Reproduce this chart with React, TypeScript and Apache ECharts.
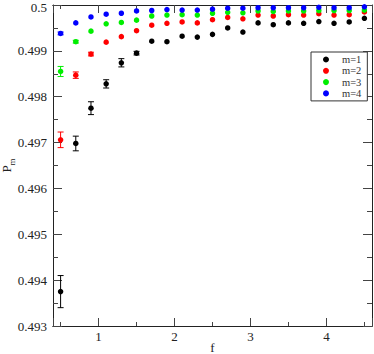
import React, { useEffect, useRef } from "react";
import * as echarts from "echarts";

const fValues = [0.5, 0.7, 0.9, 1.1, 1.3, 1.5, 1.7, 1.9, 2.1, 2.3, 2.5, 2.7, 2.9, 3.1, 3.3, 3.5, 3.7, 3.9, 4.1, 4.3, 4.5];

const m1 = [0.49375, 0.49698, 0.49775, 0.49828, 0.49874, 0.49895, 0.49921, 0.4992, 0.49932, 0.4993, 0.49936, 0.4995, 0.49941, 0.49961, 0.49957, 0.49961, 0.4996, 0.49964, 0.4996, 0.49963, 0.49971];
const m1Err = [0.00035, 0.00016, 0.00014, 0.00009, 0.00009, 0.00004, 0, 0, 0, 0, 0, 0, 0, 0, 0, 0, 0, 0, 0, 0, 0];

const m2 = [0.49706, 0.49847, 0.49893, 0.49919, 0.49931, 0.49944, 0.49956, 0.4996, 0.49963, 0.49961, 0.49968, 0.49973, 0.4997, 0.49978, 0.49976, 0.49979, 0.49978, 0.49981, 0.49978, 0.49979, 0.49985];
const m2Err = [0.00017, 0.00007, 0.00004, 0, 0, 0, 0, 0, 0, 0, 0, 0, 0, 0, 0, 0, 0, 0, 0, 0, 0];

const m3 = [0.49855, 0.4992, 0.49943, 0.49959, 0.49962, 0.49967, 0.49976, 0.49978, 0.49979, 0.49978, 0.49982, 0.49984, 0.49983, 0.49987, 0.49986, 0.49987, 0.49987, 0.49988, 0.49988, 0.49988, 0.49989];
const m3Err = [0.00011, 0.00003, 0, 0, 0, 0, 0, 0, 0, 0, 0, 0, 0, 0, 0, 0, 0, 0, 0, 0, 0];

const m4 = [0.49938, 0.49961, 0.49974, 0.4998, 0.49982, 0.49987, 0.49988, 0.4999, 0.49989, 0.49989, 0.49991, 0.49993, 0.49993, 0.49994, 0.49994, 0.49994, 0.49994, 0.49995, 0.49994, 0.49994, 0.49996];
const m4Err = [0.00003, 0, 0, 0, 0, 0, 0, 0, 0, 0, 0, 0, 0, 0, 0, 0, 0, 0, 0, 0, 0];

const seriesNames = ["m=1", "m=2", "m=3", "m=4"];
const seriesColors = ["#000000", "#ff0000", "#00ee00", "#0000ff"];

const FONT = "'Liberation Serif', 'DejaVu Serif', 'Times New Roman', serif";

export default function App() {
  const ref = useRef<HTMLDivElement>(null);
  useEffect(() => {
    if (!ref.current) return;
    const chart = echarts.init(ref.current, undefined, { renderer: "svg" });
    const allVals = [m1, m2, m3, m4];
    const allErr = [m1Err, m2Err, m3Err, m4Err];

    const axisCommon = {
      type: "value" as const,
      min: 0.4,
      max: 4.6,
      axisLine: { show: true, onZero: false, lineStyle: { color: "#222", width: 1 } },
      splitLine: { show: false },
    };

    const xAxes = [
      { ...axisCommon, position: "bottom", minInterval: 0.5, maxInterval: 0.5,
        axisTick: { show: true, inside: true, length: 4, lineStyle: { color: "#444" } },
        axisLabel: { show: false } },
      { ...axisCommon, position: "bottom", minInterval: 1, maxInterval: 1,
        axisTick: { show: true, inside: true, length: 8, lineStyle: { color: "#444" } },
        axisLabel: {
          show: true, margin: 4, fontFamily: FONT, fontSize: 13, color: "#222",
          formatter: (v: number) => (Math.abs(v - Math.round(v)) < 1e-9 ? String(Math.round(v)) : ""),
        },
        name: "f", nameLocation: "middle", nameGap: 15, nameMoveOverlap: false,
        nameTextStyle: { fontFamily: FONT, fontSize: 13, color: "#222", lineHeight: 13 } },
      { ...axisCommon, position: "top", minInterval: 0.5, maxInterval: 0.5,
        axisTick: { show: true, inside: true, length: 4, lineStyle: { color: "#444" } },
        axisLabel: { show: false } },
      { ...axisCommon, position: "top", minInterval: 1, maxInterval: 1,
        axisTick: { show: true, inside: true, length: 8, lineStyle: { color: "#444" } },
        axisLabel: { show: false } },
    ];

    const yCommon = {
      type: "value" as const,
      min: 0.493,
      max: 0.5,
      interval: 0.001,
      axisLine: { show: true, onZero: false, lineStyle: { color: "#222", width: 1 } },
      axisTick: { show: true, inside: true, length: 9, lineStyle: { color: "#444" } },
      minorTick: { show: true, splitNumber: 2, length: 5, lineStyle: { color: "#444" } },
      splitLine: { show: false },
      minorSplitLine: { show: false },
    };

    const yAxes = [
      { ...yCommon, position: "left",
        axisLabel: {
          show: true, margin: 6, fontFamily: FONT, fontSize: 13, color: "#222",
          formatter: (v: number) => {
            const s = String(parseFloat(v.toFixed(4)));
            return v > 0.49995 ? "{t|" + s + "}" : s;
          },
          rich: {
            t: { fontFamily: FONT, fontSize: 13, color: "#222", padding: [4, 0, 0, 0] },
          },
        },
        name: "{p|P}{s|m}", nameLocation: "middle", nameGap: 37, nameRotate: 90, nameMoveOverlap: false,
        nameTextStyle: {
          fontFamily: FONT, color: "#222",
          rich: {
            p: { fontFamily: FONT, fontSize: 13, color: "#222", verticalAlign: "top", lineHeight: 16 },
            s: { fontFamily: FONT, fontSize: 9, color: "#222", verticalAlign: "bottom", lineHeight: 16 },
          },
        } },
      { ...yCommon, position: "right", axisLabel: { show: false } },
    ];

    const series: any[] = [];
    allVals.forEach((vals, si) => {
      const errData: number[][] = [];
      vals.forEach((v, i) => {
        if (allErr[si][i] > 0) errData.push([fValues[i], v - allErr[si][i], v + allErr[si][i]]);
      });
      series.push({
        type: "custom",
        name: seriesNames[si] + " err",
        xAxisIndex: 1,
        yAxisIndex: 0,
        z: 2 + si * 2,
        encode: { x: 0, y: [1, 2] },
        data: errData,
        renderItem: (params: any, api: any) => {
          const x = api.value(0);
          const lo = api.coord([x, api.value(1)]);
          const hi = api.coord([x, api.value(2)]);
          const cw = 3;
          const style = { stroke: seriesColors[si], lineWidth: 1 };
          return {
            type: "group",
            children: [
              { type: "line", shape: { x1: lo[0], y1: lo[1], x2: hi[0], y2: hi[1] }, style },
              { type: "line", shape: { x1: lo[0] - cw, y1: lo[1], x2: lo[0] + cw, y2: lo[1] }, style },
              { type: "line", shape: { x1: hi[0] - cw, y1: hi[1], x2: hi[0] + cw, y2: hi[1] }, style },
            ],
          };
        },
      });
      series.push({
        type: "scatter",
        name: seriesNames[si],
        xAxisIndex: 1,
        yAxisIndex: 0,
        z: 3 + si * 2,
        symbol: "circle",
        symbolSize: 5.5,
        itemStyle: { color: seriesColors[si], opacity: 1 },
        data: vals.map((v, i) => [fValues[i], v]),
      });
    });

    chart.setOption({
      animation: false,
      backgroundColor: "#fff",
      grid: { left: 53, right: 2, top: 5, bottom: 28, containLabel: false, outerBoundsMode: "none" },
      xAxis: xAxes,
      yAxis: yAxes,
      legend: {
        data: seriesNames,
        orient: "vertical",
        left: 311,
        top: 52,
        icon: "circle",
        itemWidth: 6,
        itemHeight: 6,
        itemGap: 0.3,
        padding: [2, 6, 2, 12],
        borderColor: "#333",
        borderWidth: 1,
        borderRadius: 0,
        backgroundColor: "#fff",
        textStyle: { fontFamily: FONT, fontSize: 10.5, color: "#333", lineHeight: 11, padding: [0, 0, 0, 8] },
      },
      series,
    });
    return () => chart.dispose();
  }, []);
  return <div ref={ref} style={{ width: 374, height: 354, position: "absolute", left: 0, top: 0 }} />;
}
